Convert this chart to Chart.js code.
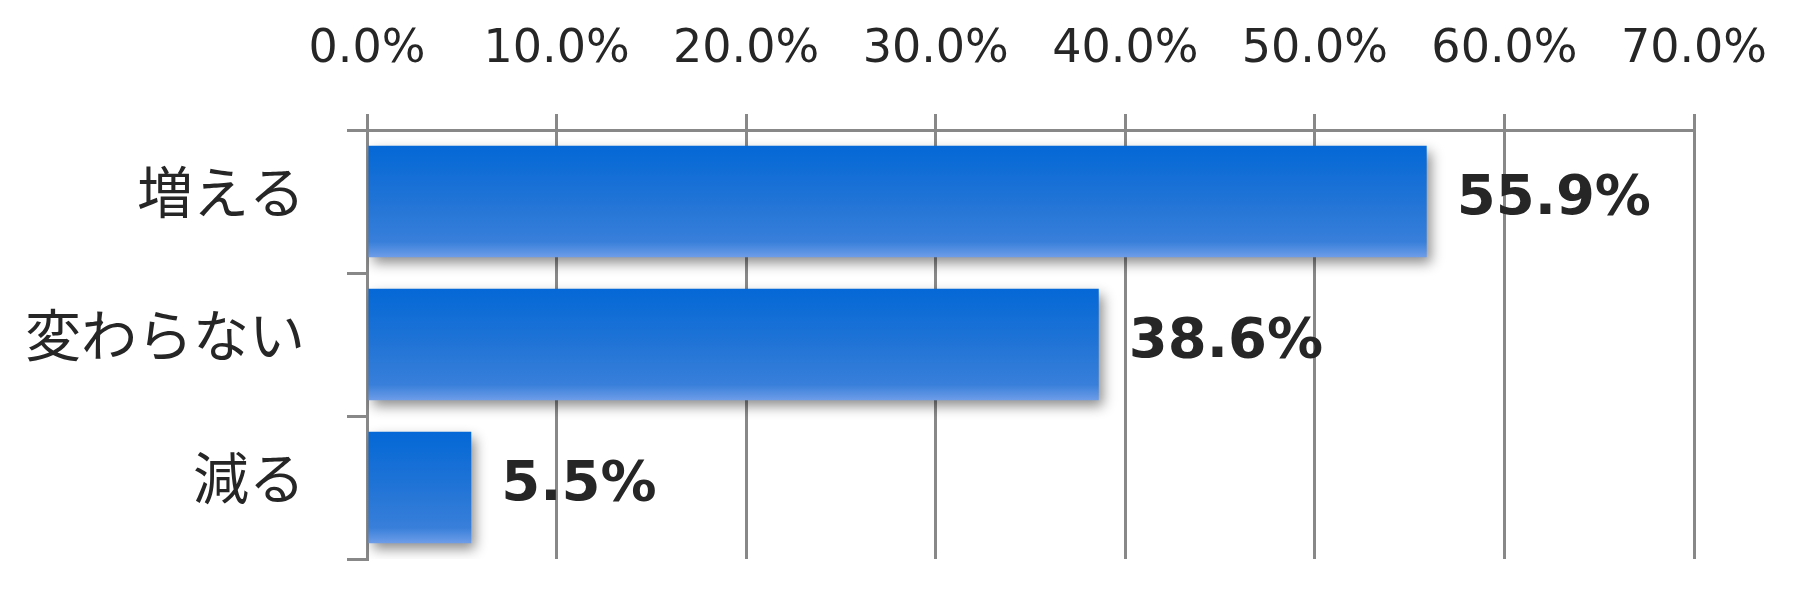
<!DOCTYPE html>
<html>
<head>
<meta charset="utf-8">
<script src="https://cdn.jsdelivr.net/npm/chart.js@4/dist/chart.umd.min.js"></script>
<style>
  html, body { margin: 0; padding: 0; background: #ffffff; }
  #c { display: block; }
</style>
</head>
<body>
<canvas id="c" width="1820" height="610"></canvas>
<script>
const categories = ['増える', '変わらない', '減る'];
const values = [55.9, 38.6, 5.5];
const axisMin = 0;
const axisMax = 70;
const axisStep = 10;
const barPct = 0.78;

function barGradient(context) {
  const chart = context.chart;
  if (!chart.chartArea) return '#0a6bd6';
  const ys = chart.scales.y;
  const c = ys.getPixelForValue(context.dataIndex);
  const h = (ys.height / categories.length) * barPct;
  const g = chart.ctx.createLinearGradient(0, c - h / 2, 0, c + h / 2);
  g.addColorStop(0, '#0468d6');
  g.addColorStop(0.5, '#2174d6');
  g.addColorStop(0.86, '#387fda');
  g.addColorStop(1, '#6e9de8');
  return g;
}

const shadowPlugin = {
  id: 'barShadow',
  beforeDatasetsDraw(chart) {
    const ctx = chart.ctx;
    ctx.save();
    ctx.shadowColor = 'rgba(0,0,0,0.45)';
    ctx.shadowBlur = 12;
    ctx.shadowOffsetX = 4;
    ctx.shadowOffsetY = 6;
  },
  afterDatasetsDraw(chart) {
    chart.ctx.restore();
  }
};

const valueLabelPlugin = {
  id: 'valueLabels',
  afterDraw(chart) {
    const ctx = chart.ctx;
    const meta = chart.getDatasetMeta(0);
    ctx.save();
    ctx.font = 'bold 56px "DejaVu Sans"';
    ctx.fillStyle = '#262626';
    ctx.textAlign = 'left';
    ctx.textBaseline = 'middle';
    meta.data.forEach((bar, i) => {
      const v = chart.data.datasets[0].data[i];
      ctx.fillText(v.toFixed(1) + '%', bar.x + 30, bar.y - 2);
    });
    ctx.restore();
  }
};

new Chart(document.getElementById('c'), {
  type: 'bar',
  data: {
    labels: categories,
    datasets: [{
      data: values,
      backgroundColor: barGradient,
      borderWidth: 0,
      barPercentage: barPct,
      categoryPercentage: 1
    }]
  },
  options: {
    indexAxis: 'y',
    responsive: false,
    devicePixelRatio: 1,
    animation: false,
    layout: { padding: { left: 0, right: 126, top: 0, bottom: 51 } },
    plugins: { legend: { display: false }, tooltip: { enabled: false } },
    scales: {
      x: {
        position: 'top',
        min: axisMin,
        max: axisMax,
        afterFit(s) { s.height = 130; s.paddingLeft = 0; s.paddingRight = 0; },
        ticks: {
          stepSize: axisStep,
          callback: (v) => Number(v).toFixed(1) + '%',
          font: { family: '"DejaVu Sans"', size: 46 },
          color: '#262626',
          padding: 36
        },
        grid: { color: '#888888', lineWidth: 3, tickLength: 16 },
        border: { display: true, color: '#888888', width: 3 }
      },
      y: {
        afterFit(s) { s.width = 367; s.paddingTop = 0; s.paddingBottom = 0; },
        ticks: {
          font: { family: '"Noto Sans CJK JP"', size: 56 },
          color: '#262626',
          padding: 42,
          labelOffset: -10
        },
        grid: { drawOnChartArea: false, color: '#888888', lineWidth: 3, tickLength: 20, offset: true },
        border: { display: true, color: '#888888', width: 3 }
      }
    }
  },
  plugins: [shadowPlugin, valueLabelPlugin]
});
</script>
</body>
</html>
